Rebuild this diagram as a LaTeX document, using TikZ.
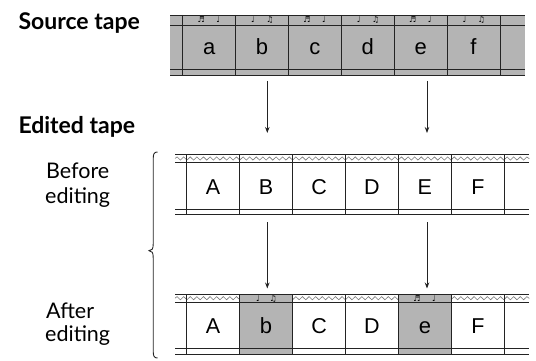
\documentclass[tikz,border=0pt]{standalone}
\usepackage{fontspec}
\setmainfont{Lato}
\newfontfamily\cellfont{Liberation Sans}
\newfontfamily\notefont{DejaVu Sans}
\usetikzlibrary{decorations.pathmorphing,arrows.meta}
\definecolor{tapegray}{RGB}{180,180,180}
\definecolor{linec}{RGB}{35,35,35}
\definecolor{wavec}{RGB}{120,120,120}
\begin{document}
\begin{tikzpicture}[x=1pt,y=-1pt,
  tline/.style={draw=linec,line width=0.9pt},
  wave/.style={draw=wavec,line width=0.6pt,decorate,decoration={snake,amplitude=1.6pt,segment length=6.6pt}},
  lowcell/.style={inner sep=0pt,anchor=base,font=\cellfont\fontsize{22}{22}\selectfont},
  capcell/.style={inner sep=0pt,anchor=base,font=\cellfont\fontsize{21.5}{21.5}\selectfont},
  notes/.style={inner sep=0pt,font=\notefont\fontsize{8}{8}\selectfont},
  title/.style={inner sep=0pt,anchor=base west,font=\fontsize{23}{23}\bfseries\selectfont},
  side/.style={inner sep=0pt,anchor=base west,font=\fontsize{21.5}{21.5}\selectfont},
  arr/.style={draw=linec,line width=0.9pt,-{Stealth[length=6pt,width=4.5pt]}},
  bracec/.style={draw=linec,line width=0.9pt}]
\useasboundingbox (0,0) rectangle (536,361);

% ---------- labels ----------
\node[title] (lsrc) at (18.3,30) {Source tape};
\node[title] (ledit) at (18.3,133) {Edited tape};
\node[side] (lb1) at (46,178.3) {Before};
\node[side] (lb2) at (45,203.3) {editing};
\node[side] (la1) at (46,318) {After};
\node[side] (la2) at (45,341.7) {editing};

% ---------- source tape ----------
\fill[tapegray] (170,15) rectangle (525,75.7);
\foreach \y in {15,25,69.3,75.7} \draw[tline] (170,\y) -- (525,\y);
\foreach \k in {0,...,6} \draw[tline] ({182.7+52.88*\k},15) -- ({182.7+52.88*\k},75.7);
\foreach \k/\l in {0/a,1/b,2/c,3/d,4/e,5/f} {
  \node[lowcell] (s\l) at ({182.7+52.88*(\k+0.5)},55) {\l};
}
\foreach \k in {0,2,4} {
  \node[notes] (sn1\k) at ({182.7+52.88*(\k+0.5)-8},20) {♬};
  \node[notes] (sn2\k) at ({182.7+52.88*(\k+0.5)+9},20) {♩};
}
\foreach \k in {1,3,5} {
  \node[notes] (sn1\k) at ({182.7+52.88*(\k+0.5)-9},20) {♩};
  \node[notes] (sn2\k) at ({182.7+52.88*(\k+0.5)+8},20) {♫};
}

% ---------- before tape ----------
\def\tb{154.3}
\draw[wave] (175,{\tb+4.2}) -- (529.3,{\tb+4.2});
\foreach \d in {0,8.3,54.7,60} \draw[tline] (175,{\tb+\d}) -- (529.3,{\tb+\d});
\foreach \k in {0,...,6} \draw[tline] ({186.7+52.93*\k},\tb) -- ({186.7+52.93*\k},{\tb+60});
\foreach \k/\l in {0/A,1/B,2/C,3/D,4/E,5/F} {
  \node[capcell] (b\l) at ({186.7+52.93*(\k+0.5)},{\tb+39.7}) {\l};
}

% ---------- after tape ----------
\def\ta{294}
\draw[wave] (175,{\ta+4.2}) -- (529.3,{\ta+4.2});
\fill[tapegray] ({186.7+52.93},\ta) rectangle ({186.7+52.93*2},{\ta+60});
\fill[tapegray] ({186.7+52.93*4},\ta) rectangle ({186.7+52.93*5},{\ta+60});
\foreach \d in {0,8.3,54.7,60} \draw[tline] (175,{\ta+\d}) -- (529.3,{\ta+\d});
\foreach \k in {0,...,6} \draw[tline] ({186.7+52.93*\k},\ta) -- ({186.7+52.93*\k},{\ta+60});
\node[capcell] (aA) at ({186.7+52.93*0.5},{\ta+39.7}) {A};
\node[lowcell] (ab) at ({186.7+52.93*1.5},{\ta+39.7}) {b};
\node[capcell] (aC) at ({186.7+52.93*2.5},{\ta+39.7}) {C};
\node[capcell] (aD) at ({186.7+52.93*3.5},{\ta+39.7}) {D};
\node[lowcell] (ae) at ({186.7+52.93*4.5},{\ta+39.7}) {e};
\node[capcell] (aF) at ({186.7+52.93*5.5},{\ta+39.7}) {F};
\node[notes] (an1) at ({186.7+52.93*1.5-8},{\ta+4.8}) {♩};
\node[notes] (an2) at ({186.7+52.93*1.5+7},{\ta+4.8}) {♫};
\node[notes] (an3) at ({186.7+52.93*4.5-8},{\ta+4.8}) {♬};
\node[notes] (an4) at ({186.7+52.93*4.5+9},{\ta+4.8}) {♩};

% ---------- arrows ----------
\coordinate (p1) at (267.3,81);
\coordinate (q1) at (267.3,133);
\coordinate (p2) at (427,81);
\coordinate (q2) at (427,133);
\coordinate (p3) at (267.3,222);
\coordinate (q3) at (267.3,288.5);
\coordinate (p4) at (427,222);
\coordinate (q4) at (427,288.5);
\draw[arr] (p1) -- (q1);
\draw[arr] (p2) -- (q2);
\draw[arr] (p3) -- (q3);
\draw[arr] (p4) -- (q4);

% ---------- brace ----------
\draw[bracec] (157.5,152) .. controls (154,152) and (153.2,154) .. (153.2,159)
  -- (153.2,244) .. controls (153.2,249) and (152,250.7) .. (149,250.7)
  .. controls (152,250.7) and (153.2,252.5) .. (153.2,257.5)
  -- (153.2,351) .. controls (153.2,356) and (154,358) .. (157.5,358);
\end{tikzpicture}
\end{document}
